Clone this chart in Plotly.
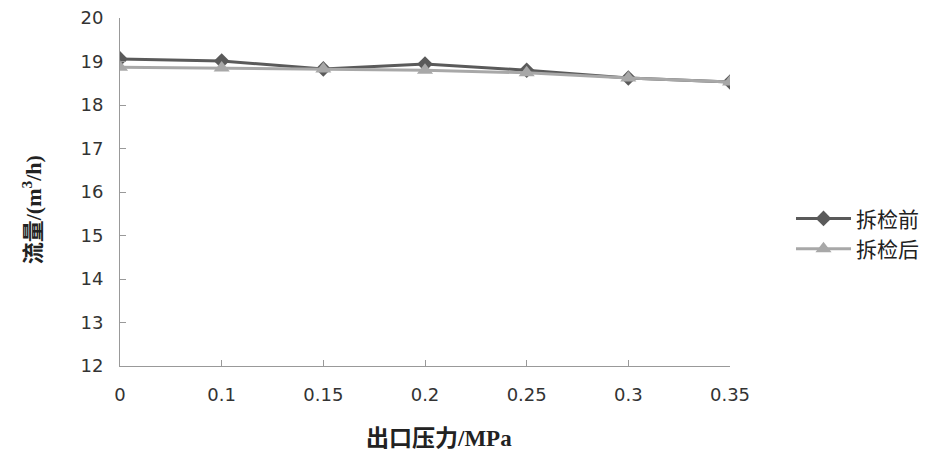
import plotly.graph_objects as go

pressure = ['0', '0.1', '0.15', '0.2', '0.25', '0.3', '0.35']
flow_before = [19.06, 19.01, 18.83, 18.94, 18.80, 18.62, 18.53]
flow_after = [18.87, 18.85, 18.83, 18.80, 18.74, 18.62, 18.53]

idx = list(range(len(pressure)))

fig = go.Figure()
fig.add_trace(go.Scatter(
    x=idx, y=flow_before, name='拆检前', mode='lines+markers',
    line=dict(color='#5a5a5a', width=3),
    marker=dict(symbol='diamond', size=12, color='#5a5a5a'),
))
fig.add_trace(go.Scatter(
    x=idx, y=flow_after, name='拆检后', mode='lines+markers',
    line=dict(color='#a8a8a8', width=3),
    marker=dict(symbol='triangle-up', size=14, color='#a8a8a8'),
))

axis_font = dict(family='DejaVu Sans', size=18, color='#333333')
title_font = dict(family='Liberation Serif, Noto Sans CJK SC', size=23, color='#222222')

fig.update_xaxes(
    range=[0, 6], tickvals=idx, ticktext=pressure,
    showgrid=False, zeroline=False, automargin=False,
    showline=True, linecolor='#999999', linewidth=1,
    ticks='inside', ticklen=6, tickcolor='#999999',
    tickfont=axis_font, ticklabelstandoff=12,
)
fig.update_yaxes(
    range=[12, 20], tickvals=list(range(12, 21)),
    showgrid=False, zeroline=False, automargin=False,
    showline=True, linecolor='#999999', linewidth=1,
    ticks='inside', ticklen=6, tickcolor='#999999',
    tickfont=axis_font, ticklabelstandoff=12, ticklabeloverflow='allow',
)

# axis titles as annotations so they sit where the original puts them
fig.add_annotation(
    text='<b>出口压力/MPa</b>', xref='paper', yref='paper',
    x=0.523, y=-0.207, xanchor='center', yanchor='middle',
    showarrow=False, font=title_font,
)
fig.add_annotation(
    text='<b>流量/(m<sup>3</sup>/h)</b>', xref='paper', yref='paper',
    x=-0.144, y=0.448, xanchor='center', yanchor='middle', textangle=-90,
    showarrow=False, font=dict(title_font, size=22),
)

fig.update_layout(
    width=944, height=460,
    margin=dict(l=112, r=222, t=10, b=102),
    plot_bgcolor='white', paper_bgcolor='white',
    legend=dict(
        x=1.1, y=0.38, xanchor='left', yanchor='middle',
        font=dict(family='Noto Sans CJK SC', size=21, color='#222222'),
        tracegroupgap=10, itemwidth=55,
    ),
)

fig.write_html('out.html')
